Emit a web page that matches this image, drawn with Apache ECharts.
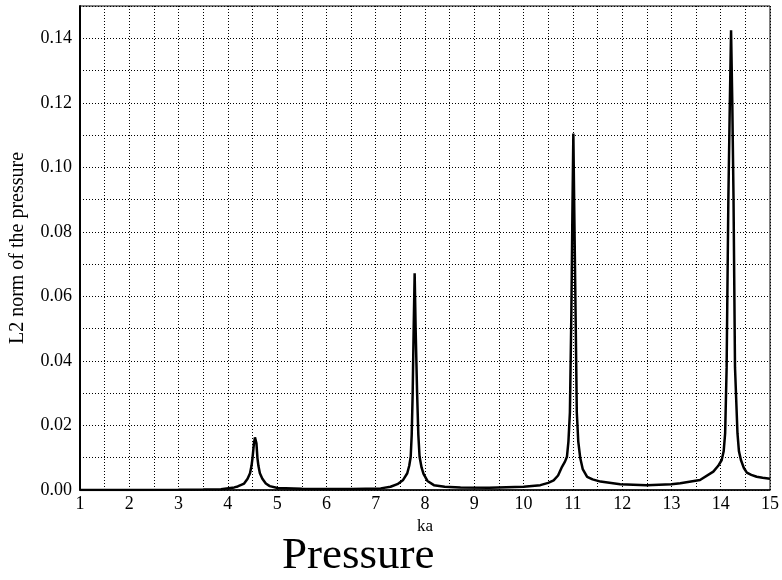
<!DOCTYPE html>
<html>
<head>
<meta charset="utf-8">
<script src="https://cdn.jsdelivr.net/npm/echarts@6/dist/echarts.min.js"></script>
<style>
  html, body { margin: 0; padding: 0; background: #fff; }
  #chart { width: 782px; height: 580px; }
</style>
</head>
<body>
<div id="chart"></div>
<script>
// ka samples
const ka = [
  1, 2, 3, 3.5, 3.86, 4.13, 4.2, 4.33, 4.4, 4.45, 4.48, 4.5, 4.53, 4.55, 4.58, 4.6, 4.62, 4.65, 4.7, 4.77, 4.85,
  5.01, 5.5, 6, 6.5, 7.1, 7.3, 7.44, 7.55, 7.64, 7.68, 7.71, 7.73, 7.75, 7.77, 7.79, 7.81, 7.84, 7.865, 7.89, 7.93, 7.97,
  8.05, 8.18, 8.4, 8.72, 9.3, 10, 10.34, 10.5, 10.61, 10.7, 10.78, 10.84, 10.88, 10.91, 10.94, 10.97, 10.99, 11.01, 11.03,
  11.055, 11.08, 11.11, 11.15, 11.2, 11.29, 11.4, 11.56, 11.96, 12.5, 13, 13.18, 13.58, 13.85, 13.95,
  14.02, 14.06, 14.09, 14.12, 14.155, 14.185, 14.21, 14.235, 14.26, 14.29, 14.34, 14.37, 14.41, 14.47, 14.53,
  14.62, 14.73, 14.85, 15
]
// L2 norm of the pressure at each ka
const l2 = [
  0.00002, 0.00003, 0.00008, 0.00013, 0.0002, 0.0008, 0.0011, 0.002, 0.0035, 0.0052, 0.0075, 0.0099, 0.0145, 0.0163, 0.0145, 0.0099, 0.0075, 0.0052, 0.0035, 0.002, 0.0012,
  0.0006, 0.0004, 0.0003, 0.0003, 0.0005, 0.001, 0.0018, 0.003, 0.0052, 0.0075, 0.0103, 0.017, 0.03, 0.05, 0.0672, 0.05, 0.03, 0.017, 0.0103, 0.007, 0.005,
  0.0028, 0.0015, 0.001, 0.0008, 0.0007, 0.001, 0.0015, 0.0022, 0.003, 0.0045, 0.0072, 0.0088, 0.0103, 0.015, 0.024, 0.055, 0.085, 0.1105, 0.085,
  0.055, 0.024, 0.015, 0.0099, 0.0065, 0.0041, 0.0033, 0.0026, 0.0018, 0.0015, 0.0018, 0.0021, 0.0031, 0.0057, 0.0075,
  0.0093, 0.012, 0.0176, 0.038, 0.09, 0.12, 0.1425, 0.12, 0.09, 0.038, 0.0176, 0.012, 0.0093, 0.0068, 0.0054,
  0.0047, 0.0041, 0.0038, 0.0035
]

const FONT = 'Liberation Serif'
const chart = echarts.init(document.getElementById('chart'))

const dotted = { color: '#000', width: 1, type: [1, 2] }

chart.setOption({
  animation: false,
  backgroundColor: '#fff',
  title: {
    text: 'Pressure',
    left: 282,
    top: 534,
    padding: 0,
    textStyle: { fontFamily: FONT, fontSize: 45, fontWeight: 'normal', color: '#000' }
  },
  grid: {
    left: 79, right: 12, top: 6, bottom: 90,
    show: true, borderColor: '#000', borderWidth: 1
  },
  xAxis: {
    type: 'value',
    min: 1, max: 15, interval: 0.5,
    name: 'ka',
    nameLocation: 'middle',
    nameGap: 27,
    nameTextStyle: { fontFamily: FONT, fontSize: 17, color: '#000' },
    axisLine: { lineStyle: { color: '#000', width: 1.5 } },
    axisTick: { show: false },
    axisLabel: {
      fontFamily: FONT, fontSize: 18, color: '#000', margin: 5,
      showMinLabel: true, showMaxLabel: true,
      formatter: v => (Math.abs(v - Math.round(v)) < 1e-6 ? String(Math.round(v)) : '')
    },
    splitLine: { show: true, lineStyle: dotted }
  },
  yAxis: {
    type: 'value',
    min: 0, max: 0.15, interval: 0.01,
    name: 'L2 norm of the pressure',
    nameLocation: 'middle',
    nameGap: 52,
    nameRotate: 90,
    nameTextStyle: { fontFamily: FONT, fontSize: 20, color: '#000' },
    axisLine: { show: true, lineStyle: { color: '#000', width: 2 } },
    axisTick: { show: false },
    axisLabel: {
      fontFamily: FONT, fontSize: 18, color: '#000', margin: 8,
      formatter: v => (Math.round(v * 100) % 2 === 0 ? v.toFixed(2) : '')
    },
    splitLine: { show: true, lineStyle: dotted }
  },
  series: [{
    type: 'line',
    data: ka.map((k, i) => [k, l2[i]]),
    showSymbol: false,
    smooth: false,
    lineStyle: { color: '#000', width: 2.5 },
    itemStyle: { color: '#000' }
  }]
})
</script>
</body>
</html>
